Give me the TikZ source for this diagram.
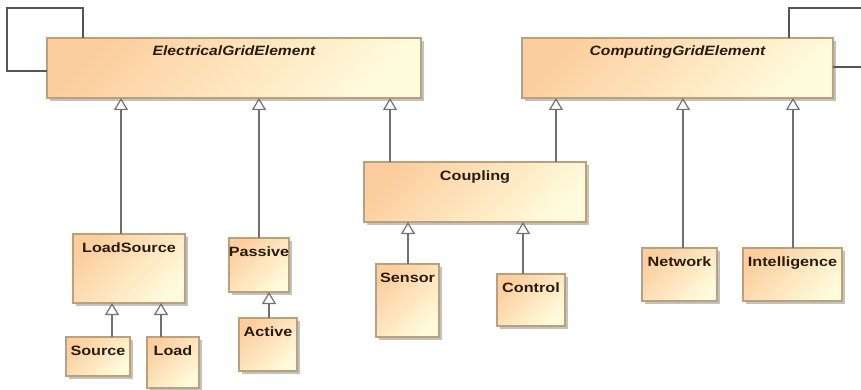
\documentclass[tikz,border=0pt]{standalone}
\usepackage{fontspec}
\usepackage{graphicx}
\setmainfont{Liberation Sans}
\usetikzlibrary{arrows.meta,calc,shadows}

\definecolor{umlorange}{RGB}{252,206,158}
\definecolor{umlcream}{RGB}{255,251,220}
\definecolor{umlborder}{RGB}{188,160,122}
\definecolor{umlline}{RGB}{112,112,112}
\definecolor{umlself}{RGB}{85,85,85}
\definecolor{umltext}{RGB}{40,28,18}

\newcommand\cname[1]{\scalebox{1.2}[1]{#1}}
% generalization: vertical line from a child's top edge (at an x offset) up to the parent
\newcommand\genline[3]{\draw[gen] ($(#1.north west)+(#2,0)$) coordinate (g-#1-#2) -- (g-#1-#2 |- #3.south);}

\tikzset{
  cls/.style={draw=umlborder, line width=1.1pt, left color=umlorange, right color=umlcream,
    shading angle=45, anchor=north west, inner sep=0pt, outer sep=0pt,
    drop shadow={shadow xshift=3pt, shadow yshift=-3pt, fill=black!40, opacity=0.6}},
  cw/.style={minimum width=#1pt},
  ch/.style={minimum height=#1pt},
  txt/.style={font=\fontsize{13.5}{15}\selectfont\bfseries, text=umltext, anchor=base, yshift=-18pt},
  gen/.style={draw=umlline, line width=1.2pt,
    -{Triangle[open, length=12pt, width=14pt, fill=white]}},
  selfref/.style={draw=umlself, line width=1.1pt},
}

\begin{document}
\begin{tikzpicture}[x=1pt,y=-1pt]
\useasboundingbox (0,0) rectangle (861,390);

% abstract base classes
\node[cls, cw=374, ch=60, label={[txt]north:\itshape\scalebox{1.16}[1]{ElectricalGridElement}}] (ege) at (47,38) {};
\node[cls, cw=311, ch=60, label={[txt]north:\itshape\scalebox{1.16}[1]{ComputingGridElement}}] (cge) at (522,38) {};

% derived classes
\node[cls, cw=222, ch=60, label={[txt]north:\cname{Coupling}}] (cp) at (364,162) {};
\node[cls, cw=112, ch=69, label={[txt]north:\cname{LoadSource}}] (ls) at (73,234) {};
\node[cls, cw=60, ch=54, label={[txt]north:\cname{Passive}}] (ps) at (229,238) {};
\node[cls, cw=58, ch=53, label={[txt]north:\cname{Active}}] (ac) at (239,318) {};
\node[cls, cw=64, ch=39, label={[txt]north:\cname{Source}}] (src) at (66,337) {};
\node[cls, cw=52, ch=51, label={[txt]north:\cname{Load}}] (ld) at (147,337) {};
\node[cls, cw=63, ch=73, label={[txt]north:\cname{Sensor}}] (sn) at (376,264) {};
\node[cls, cw=68, ch=52, label={[txt]north:\cname{Control}}] (ct) at (497,274) {};
\node[cls, cw=75, ch=53, label={[txt]north:\cname{Network}}] (nw) at (642,248) {};
\node[cls, cw=99, ch=53, label={[txt]north:\cname{Intelligence}}] (intel) at (743,248) {};

% generalizations
\genline{ls}{48}{ege}
\genline{ps}{30}{ege}
\genline{cp}{26}{ege}
\genline{cp}{192}{cge}
\genline{nw}{41}{cge}
\genline{intel}{50}{cge}
\genline{src}{46}{ls}
\genline{ld}{14}{ls}
\genline{ac}{30}{ps}
\genline{sn}{32}{cp}
\genline{ct}{26}{cp}

% self references
\coordinate (eL) at (7,8);
\draw[selfref] ($(ege.north west)+(36,0)$) |- (eL) |- ($(ege.north west)+(0,33)$);
\coordinate (cR1) at (861,8);
\coordinate (cR2) at (861,67);
\draw[selfref] ($(cge.north west)+(267,0)$) |- (cR1);
\draw[selfref] (cR2 -| cge.east) -- (cR2);
\end{tikzpicture}
\end{document}
